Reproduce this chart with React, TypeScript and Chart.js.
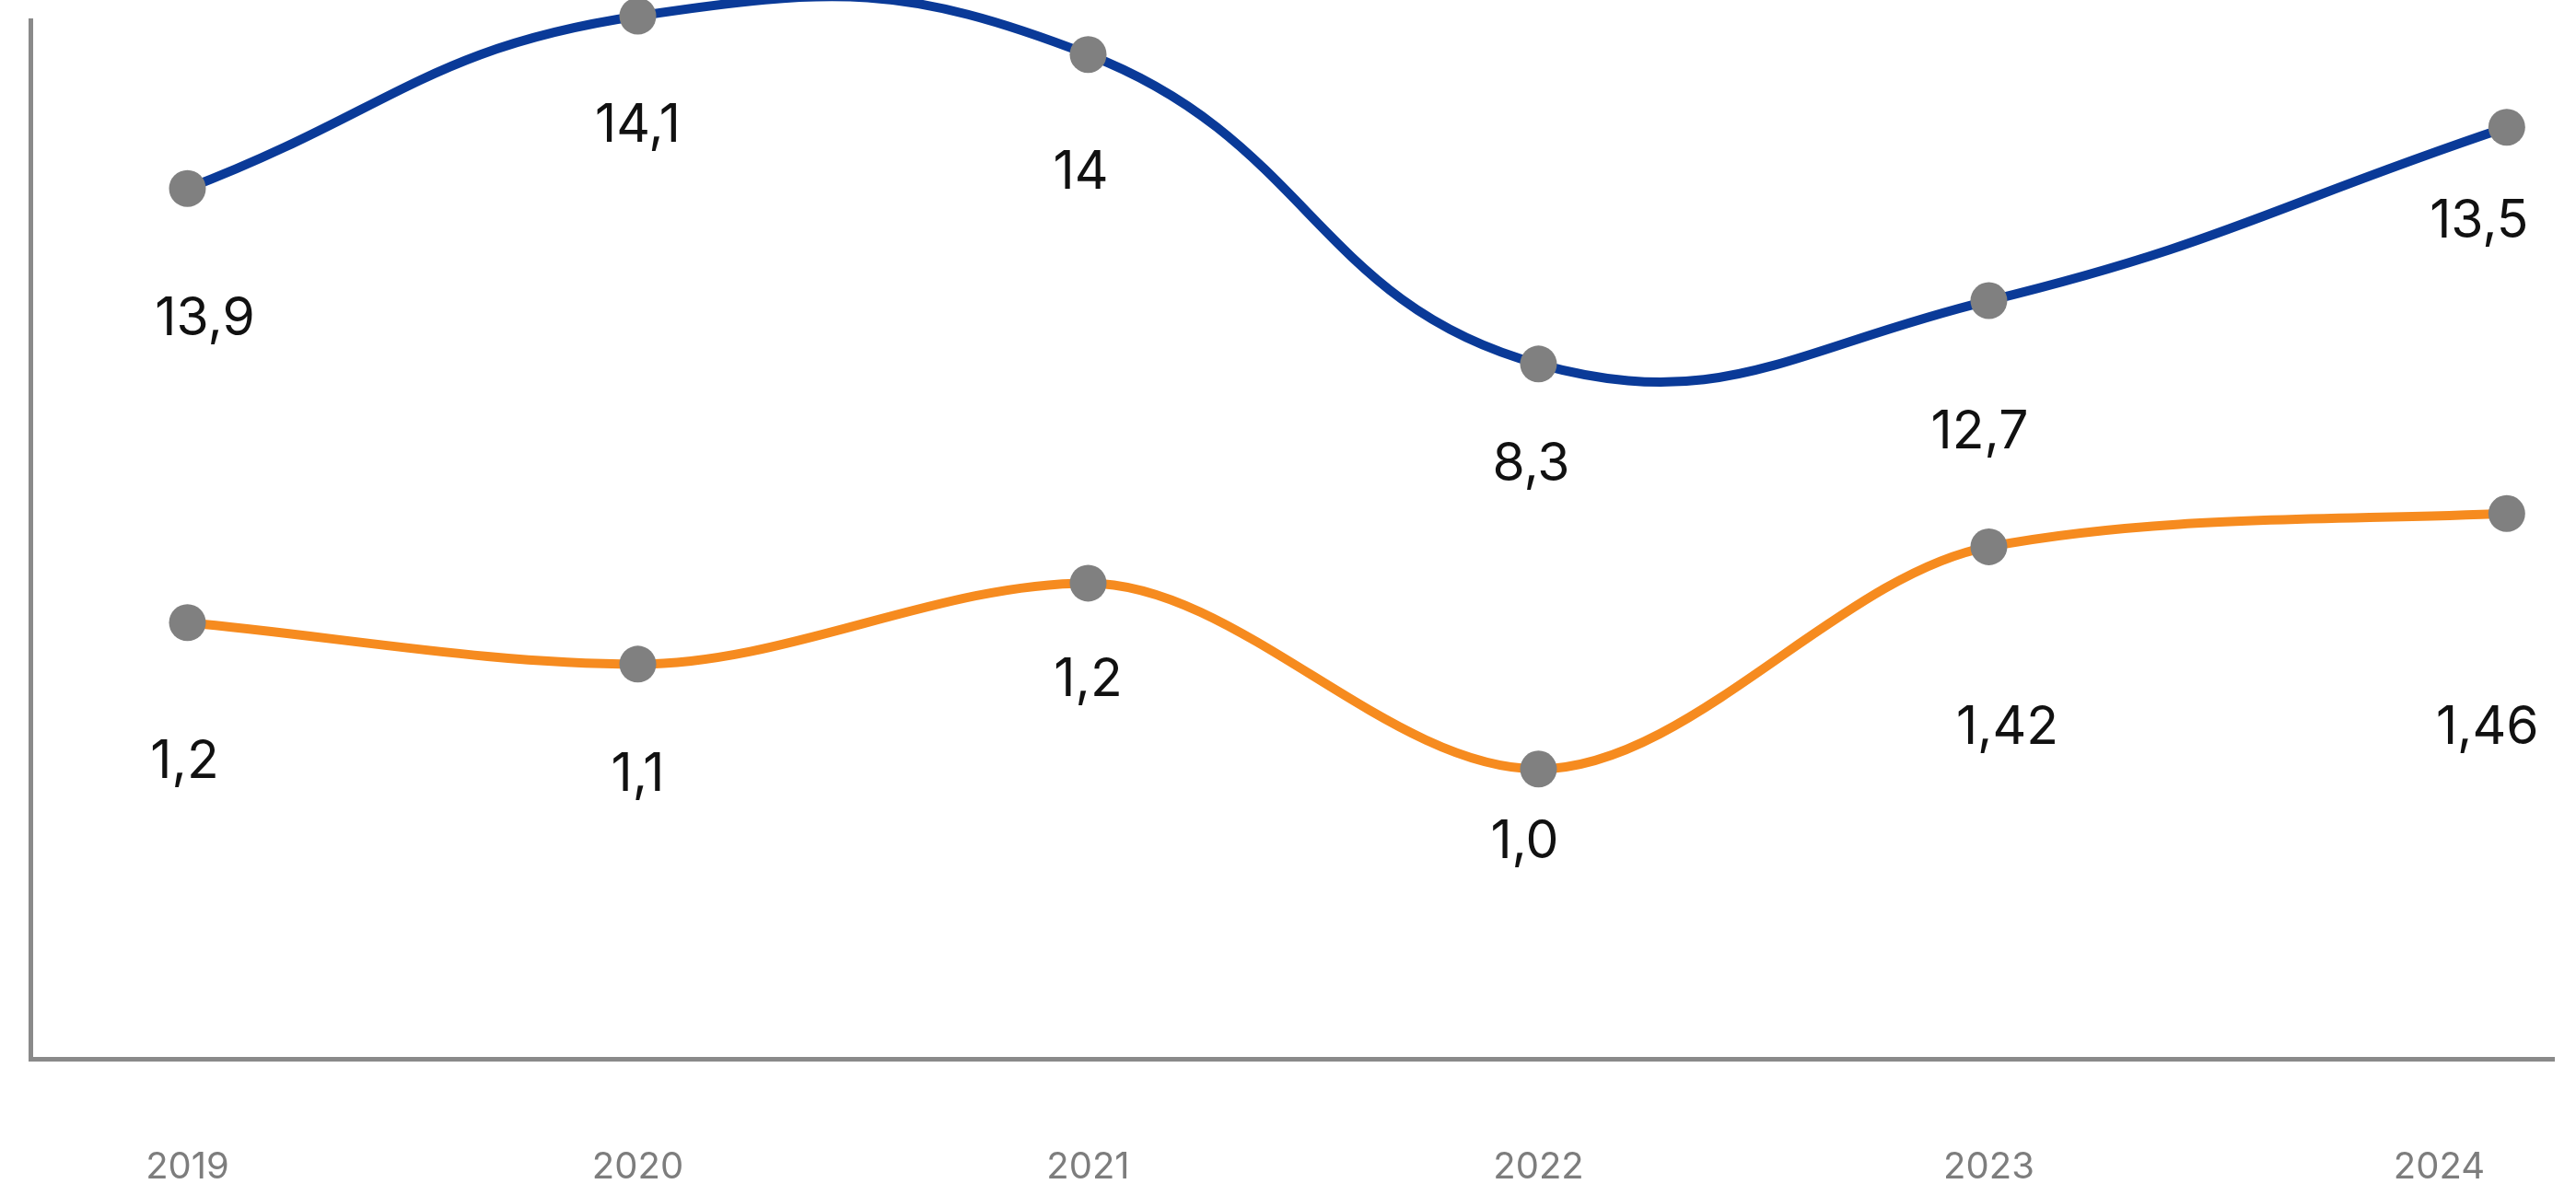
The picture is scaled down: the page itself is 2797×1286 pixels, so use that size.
import React, { useEffect, useRef } from 'react';
import { Chart, registerables } from 'chart.js';

Chart.register(...registerables);

// ---- data ----
const years = ['2019', '2020', '2021', '2022', '2023', '2024'];
// slot of each year on the horizontal axis (the 2024 mark sits a bit right of its tick)
const yearSlot = [0, 1, 2, 3, 4, 5.15];

// printed values
const blueValues = ['13,9', '14,1', '14', '8,3', '12,7', '13,5'];
const orangeValues = ['1,2', '1,1', '1,2', '1,0', '1,42', '1,46'];

// drawn height of each point on the (hidden, schematic) 0–100 vertical scale
const blueLevel = [83.8, 100.4, 96.7, 66.9, 73.0, 89.7];
const orangeLevel = [42.0, 38.0, 45.8, 27.9, 49.3, 52.5];

// ---- label placement (style) relative to each point, in px ----
const blueLabelDx = [19, 0, -8, -8, -10, -30];
const blueLabelDy = [138, 116, 125, 106, 139, 99];
const orangeLabelDx = [-3, 0, 0, -15, 20, -21];
const orangeLabelDy = [148, 117, 102, 76, 193, 229];

const W = 2797;
const H = 1286;
const CANVAS_H = 1386; // extra room below the viewport for the axis label padding

const valueLabels = {
  id: 'valueLabels',
  afterDatasetsDraw(chart: any) {
    const ctx = chart.ctx as CanvasRenderingContext2D;
    ctx.save();
    ctx.font = '400 57px Inter, "Liberation Sans", sans-serif';
    ctx.fillStyle = '#111111';
    ctx.textAlign = 'center';
    ctx.textBaseline = 'alphabetic';
    const sets: [string[], number[], number[]][] = [
      [blueValues, blueLabelDx, blueLabelDy],
      [orangeValues, orangeLabelDx, orangeLabelDy],
    ];
    sets.forEach(([texts, dx, dy], di) => {
      const meta = chart.getDatasetMeta(di);
      meta.data.forEach((pt: any, i: number) => {
        ctx.fillText(texts[i], pt.x + dx[i], pt.y + dy[i] + 21);
      });
    });
    ctx.restore();
  },
};

export default function App() {
  const ref = useRef<HTMLCanvasElement | null>(null);

  useEffect(() => {
    if (!ref.current) return;
    const axisBorder = { display: true, color: '#8a8a8a', width: 5 };
    const chart = new Chart(ref.current, {
      type: 'line',
      data: {
        datasets: [
          {
            data: yearSlot.map((x, i) => ({ x, y: blueLevel[i] })),
            borderColor: '#0a3a98',
            borderWidth: 10,
            tension: 0.45,
            pointRadius: 20,
            pointBackgroundColor: '#808080',
            pointBorderWidth: 0,
            fill: false,
            clip: false as any,
          },
          {
            data: yearSlot.map((x, i) => ({ x, y: orangeLevel[i] })),
            borderColor: '#f68b1f',
            borderWidth: 10,
            cubicInterpolationMode: 'monotone',
            pointRadius: 20,
            pointBackgroundColor: '#808080',
            pointBorderWidth: 0,
            fill: false,
            clip: false as any,
          },
        ],
      },
      options: {
        responsive: false,
        animation: false,
        devicePixelRatio: 1,
        events: [],
        layout: { padding: { left: 33, top: 22, right: 0, bottom: 0 } },
        plugins: {
          legend: { display: false },
          tooltip: { enabled: false },
        },
        scales: {
          x: {
            type: 'linear',
            min: -0.3487,
            max: 5.255,
            grid: { display: false, drawTicks: false },
            border: axisBorder,
            afterBuildTicks: (axis: any) => {
              axis.ticks = years.map((_, i) => ({ value: i }));
            },
            ticks: {
              padding: 98,
              color: '#7d7d7d',
              font: { family: 'Inter', size: 40, lineHeight: 1 },
              maxRotation: 0,
              autoSkip: false,
              callback: (v: any) => years[v as number] ?? '',
            },
          },
          y: {
            type: 'linear',
            min: 0,
            max: 100,
            grid: { display: false, drawTicks: false },
            border: axisBorder,
            ticks: { display: false },
          },
        },
      },
      plugins: [valueLabels],
    } as any);
    return () => chart.destroy();
  }, []);

  return (
    <div style={{ position: 'fixed', left: 0, top: 0, width: W, height: H, overflow: 'hidden', background: '#ffffff' }}>
      <canvas ref={ref} width={W} height={CANVAS_H} style={{ display: 'block', width: W, height: CANVAS_H }} />
    </div>
  );
}
